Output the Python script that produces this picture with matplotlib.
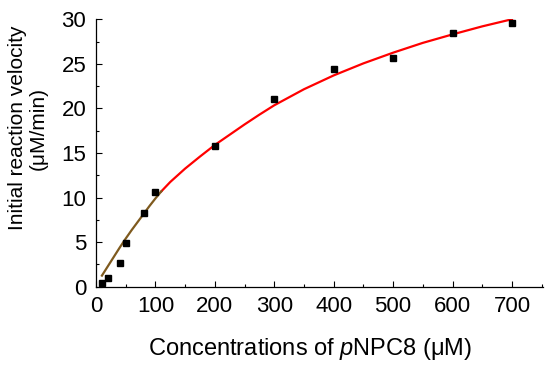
import matplotlib
matplotlib.use("Agg")
import matplotlib.pyplot as plt
from matplotlib.ticker import MultipleLocator

plt.rcParams["font.family"] = ["Liberation Sans", "DejaVu Sans"]
plt.rcParams["mathtext.fontset"] = "custom"
plt.rcParams["mathtext.rm"] = "Liberation Sans"
plt.rcParams["mathtext.it"] = "Liberation Sans:italic"

# measured points
conc = [10, 20, 40, 50, 80, 100, 200, 300, 400, 500, 600, 700]
velocity = [0.45, 1.0, 2.65, 4.9, 8.3, 10.65, 15.8, 21.1, 24.4, 25.6, 28.5, 29.6]

# fitted curve
fit_low_x = [10, 20, 30, 40, 50, 60, 70, 80, 90, 100, 110]
fit_low_y = [1.25, 2.3, 3.35, 4.4, 5.4, 6.35, 7.25, 8.15, 9.05, 9.9, 10.7]
fit_x = [110, 125, 150, 175, 200, 225, 250, 275, 300, 350, 400, 450, 500, 550, 600, 650, 700]
fit_y = [10.7, 11.75, 13.25, 14.6, 15.9, 17.05, 18.2, 19.3, 20.35, 22.15, 23.7, 25.05, 26.25, 27.35, 28.3, 29.2, 30.0]

fig = plt.figure(figsize=(5.5, 3.7), dpi=100)
ax = fig.add_axes([0.1745, 0.225, 0.8125, 0.723])

ax.plot(fit_x, fit_y, color="#ff0000", lw=1.6, zorder=2)
ax.plot(fit_low_x, fit_low_y, color="#7f5a1e", lw=1.6, zorder=2)
ax.plot(conc, velocity, "s", color="black", ms=5, zorder=3)

ax.set_xlim(0, 752)
ax.set_ylim(0, 30)
ax.xaxis.set_major_locator(MultipleLocator(100))
ax.xaxis.set_minor_locator(MultipleLocator(50))
ax.yaxis.set_major_locator(MultipleLocator(5))
ax.yaxis.set_minor_locator(MultipleLocator(2.5))

for side in ("top", "right"):
    ax.spines[side].set_visible(False)
for side in ("left", "bottom"):
    ax.spines[side].set_linewidth(0.9)

ax.tick_params(which="major", direction="in", length=4.5, width=0.8, labelsize=16, pad=7)
ax.tick_params(which="minor", direction="in", length=2.5, width=0.8)

ax.set_xlabel("Concentrations of $\\mathit{p}$NPC8 (μM)", fontsize=17)
ax.xaxis.set_label_coords(0.479, -0.185)
ax.set_ylabel("Initial reaction velocity\n(μM/min)", fontsize=15, linespacing=1.1)
ax.yaxis.set_label_coords(-0.108, 0.593)

fig.savefig("out.png", dpi=100)
